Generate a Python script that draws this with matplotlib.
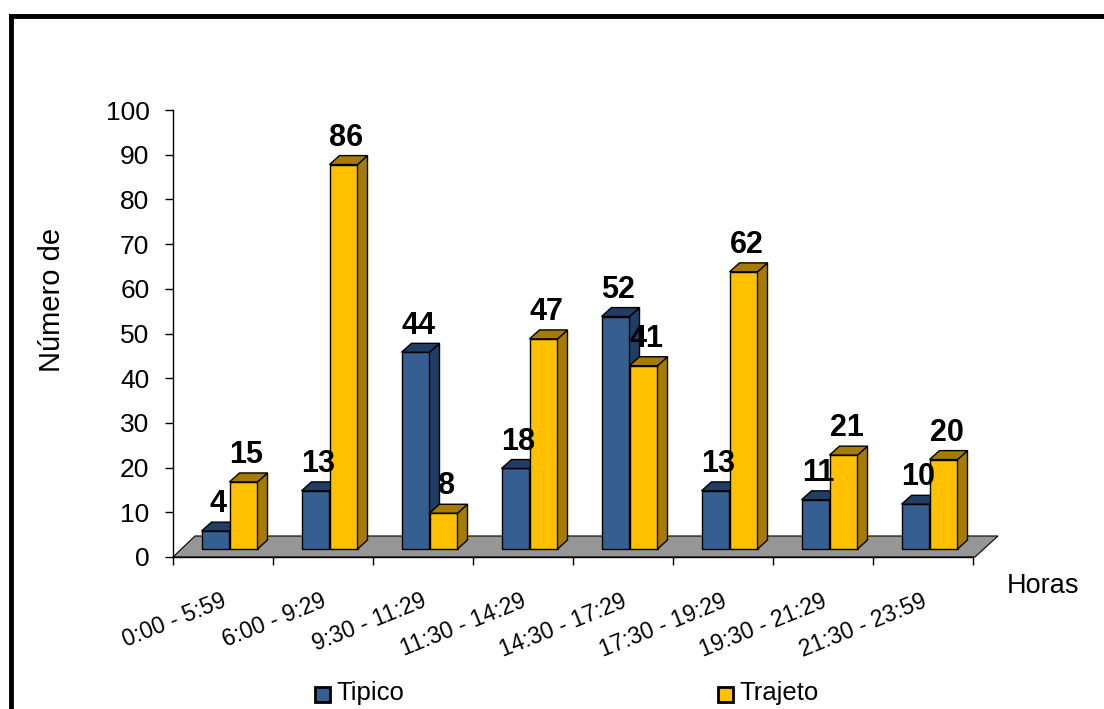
import matplotlib
matplotlib.use("Agg")
import matplotlib.pyplot as plt
from matplotlib.lines import Line2D
from matplotlib.patches import Rectangle

categories = ["0:00 - 5:59", "6:00 - 9:29", "9:30 - 11:29", "11:30 - 14:29",
              "14:30 - 17:29", "17:30 - 19:29", "19:30 - 21:29", "21:30 - 23:59"]
tipico = [4, 13, 44, 18, 52, 13, 11, 10]
trajeto = [15, 86, 8, 47, 41, 62, 21, 20]

W, H = 1104, 709
plt.rcParams["font.family"] = ["Liberation Sans", "DejaVu Sans"]

fig = plt.figure(figsize=(W / 100, H / 100), dpi=100)
ax = fig.add_axes([173 / W, 1 - 557 / H, 800 / W, 447 / H])

# pseudo-3d settings (data units)
base = 1.8      # bars stand on the floor, a bit above 0
ddx, ddy = 0.1, 2.0   # depth of the bars
bw = 0.28

# grey floor
ax.fill([0, 8.02, 8.25, 0.22], [0, 0, 4.7, 4.7], color="#969696",
        ec="black", lw=0.8, clip_on=False, zorder=1)

series = [
    (tipico, 0.285, "#365F91", "#203D63"),
    (trajeto, 0.565, "#FFC000", "#A67C00"),
]

for i in range(len(categories)):
    for vals, off, front, dark in series:
        v = vals[i]
        x0 = i + off
        x1 = x0 + bw
        top = base + v
        ax.bar(x0, v, width=bw, bottom=base, align="edge", color=front,
               ec="black", lw=1, zorder=2, clip_on=False)
        # side face
        ax.fill([x1, x1 + ddx, x1 + ddx, x1], [base, base + ddy, top + ddy, top],
                color=dark, ec="black", lw=1, zorder=2, clip_on=False)
        # top face
        ax.fill([x0, x1, x1 + ddx, x0 + ddx], [top, top, top + ddy, top + ddy],
                color=dark, ec="black", lw=1, zorder=2, clip_on=False)
        ax.text(x0 + bw / 2 + 0.03, top + ddy + 2.2, str(v), ha="center",
                va="baseline", fontsize=22, fontweight="bold", zorder=5)

ax.set_xlim(0, 8)
ax.set_ylim(0, 100)
ax.set_yticks(range(0, 101, 10))
ax.set_xticks(range(0, 9))
ax.set_xticklabels([])
ax.tick_params(axis="y", direction="out", length=6, width=1, labelsize=19, pad=11)
ax.tick_params(axis="x", direction="out", length=6, width=1)
for s in ["top", "right"]:
    ax.spines[s].set_visible(False)
for s in ["left", "bottom"]:
    ax.spines[s].set_linewidth(1)
ax.patch.set_alpha(0)

for i, lab in enumerate(categories):
    ax.text(i + 0.48, -7.3, lab, rotation=22, ha="right", va="top",
            rotation_mode="anchor", fontsize=16.5, clip_on=False)

fig.text(52 / W, 1 - 300 / H, "Número de", rotation=90, ha="center",
         va="center", fontsize=21)
fig.text(1007 / W, 1 - 593 / H, "Horas", ha="left", va="baseline", fontsize=19.5)

# legend along the bottom edge
for px, name, col in [(315, "Tipico", "#365F91"), (718, "Trajeto", "#FFC000")]:
    fig.add_artist(Rectangle((px / W, 1 - 702 / H), 15 / W, 15 / H,
                             transform=fig.transFigure, facecolor=col,
                             edgecolor="black", lw=2))
    fig.text((px + 21) / W, 1 - 700 / H, name, ha="left", va="baseline", fontsize=18.5)

# frame around the chart
fig.add_artist(Line2D([11 / W, 11 / W], [0, 1 - 16 / H], color="black", lw=3.5))
fig.add_artist(Line2D([11 / W, 1], [1 - 16 / H, 1 - 16 / H], color="black", lw=3.5))

fig.savefig("out.png", dpi=100)
